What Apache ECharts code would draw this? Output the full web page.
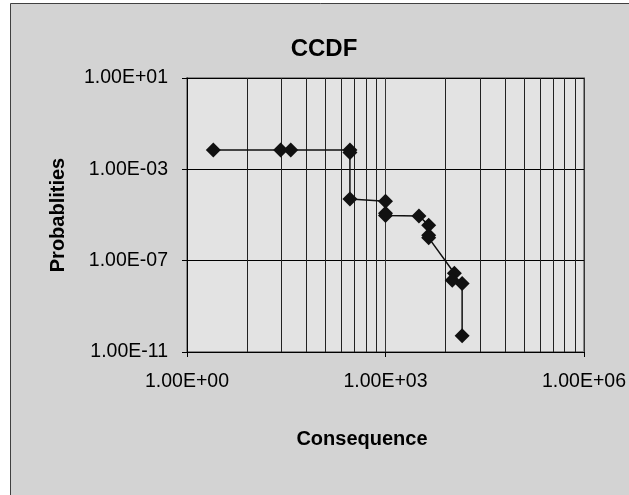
<!DOCTYPE html>
<html>
<head>
<meta charset="utf-8">
<script src="https://cdn.jsdelivr.net/npm/echarts@6/dist/echarts.min.js"></script>
<style>
html,body{margin:0;padding:0;background:#fff;}
#c{width:629px;height:495px;}
</style>
</head>
<body>
<div id="c"></div>
<script>
// Data
var consequence = [2.5, 26, 37, 290, 290, 290, 1000, 1000, 1000, 3200, 4500, 4500, 4500, 11000, 10200, 14400, 14400];
var probability = [7e-3, 7e-3, 7e-3, 7e-3, 5.5e-3, 5e-5, 4e-5, 1.2e-5, 9.5e-6, 9e-6, 3.6e-6, 1.3e-6, 1e-6, 2.8e-8, 1.4e-8, 1e-8, 5.1e-11];
// Minor vertical gridlines (Excel log-base-1000 minor positions)
var minorGridX = [8, 27, 64, 125, 216, 343, 512, 729, 8000, 27000, 64000, 125000, 216000, 343000, 512000, 729000];
var xTickLabels = ['1.00E+00', '1.00E+03', '1.00E+06'];
var yTickLabels = ['1.00E-11', '1.00E-07', '1.00E-03', '1.00E+01'];

function fmtE(v) {
  var parts = Number(v).toExponential(2).split('e');
  var e = parts[1];
  var sign = e[0];
  var d = e.slice(1);
  if (d.length < 2) d = '0' + d;
  return parts[0] + 'E' + sign + d;
}

var points = consequence.map(function (c, i) { return [c, probability[i]]; });
var font = '"Liberation Sans", Arial, sans-serif';

var chart = echarts.init(document.getElementById('c'), null, {renderer: 'canvas'});
chart.setOption({
  backgroundColor: '#ffffff',
  animation: false,
  graphic: [
    {type: 'rect', z: -10, silent: true,
     shape: {x: 10.5, y: 3.5, width: 800, height: 700},
     style: {fill: '#d3d3d3', stroke: '#404040', lineWidth: 1}},
    {type: 'text', z: 10, x: 324, y: 49,
     style: {text: 'CCDF', font: 'bold 24px ' + font, fill: '#000', textAlign: 'center', textVerticalAlign: 'middle'}},
    {type: 'text', z: 10, x: 58, y: 215, rotation: Math.PI / 2,
     style: {text: 'Probablities', font: 'bold 20px ' + font, fill: '#000', textAlign: 'center', textVerticalAlign: 'middle'}},
    {type: 'text', z: 10, x: 362, y: 439,
     style: {text: 'Consequence', font: 'bold 20px ' + font, fill: '#000', textAlign: 'center', textVerticalAlign: 'middle'}}
  ],
  grid: {
    left: 187, top: 78, width: 400, height: 274,
    show: true, backgroundColor: '#e3e3e3', borderColor: '#8a8a8a', borderWidth: 2
  },
  xAxis: {
    type: 'log', logBase: 10, min: 1, max: 1e6, interval: 3,
    axisLine: {show: true, lineStyle: {color: '#000', width: 1}},
    axisTick: {show: true, inside: false, length: 5, lineStyle: {color: '#000'}},
    axisLabel: {
      margin: 20, color: '#000', fontFamily: font, fontSize: 19.5,
      formatter: function (v) { return fmtE(v); }
    },
    splitLine: {show: true, lineStyle: {color: '#333', width: 1}},
    minorTick: {show: false}, minorSplitLine: {show: false}
  },
  yAxis: {
    type: 'log', logBase: 10, min: 1e-11, max: 10, interval: 4,
    axisLine: {show: true, lineStyle: {color: '#000', width: 1}},
    axisTick: {show: true, inside: false, length: 5, lineStyle: {color: '#000'}},
    axisLabel: {
      margin: 19, color: '#000', fontFamily: font, fontSize: 19.5,
      formatter: function (v) { return fmtE(v); }
    },
    splitLine: {show: true, lineStyle: {color: '#000', width: 1}}
  },
  series: [{
    type: 'line',
    data: points,
    z: 3,
    symbol: 'diamond',
    symbolSize: 15,
    itemStyle: {color: '#111'},
    lineStyle: {color: '#111', width: 1.5},
    markLine: {
      z: 1, silent: true, symbol: 'none', animation: false,
      label: {show: false},
      lineStyle: {color: '#222', width: 1, type: 'solid'},
      emphasis: {disabled: true},
      data: minorGridX.map(function (v) { return {xAxis: v}; })
    }
  }]
});
</script>
</body>
</html>
